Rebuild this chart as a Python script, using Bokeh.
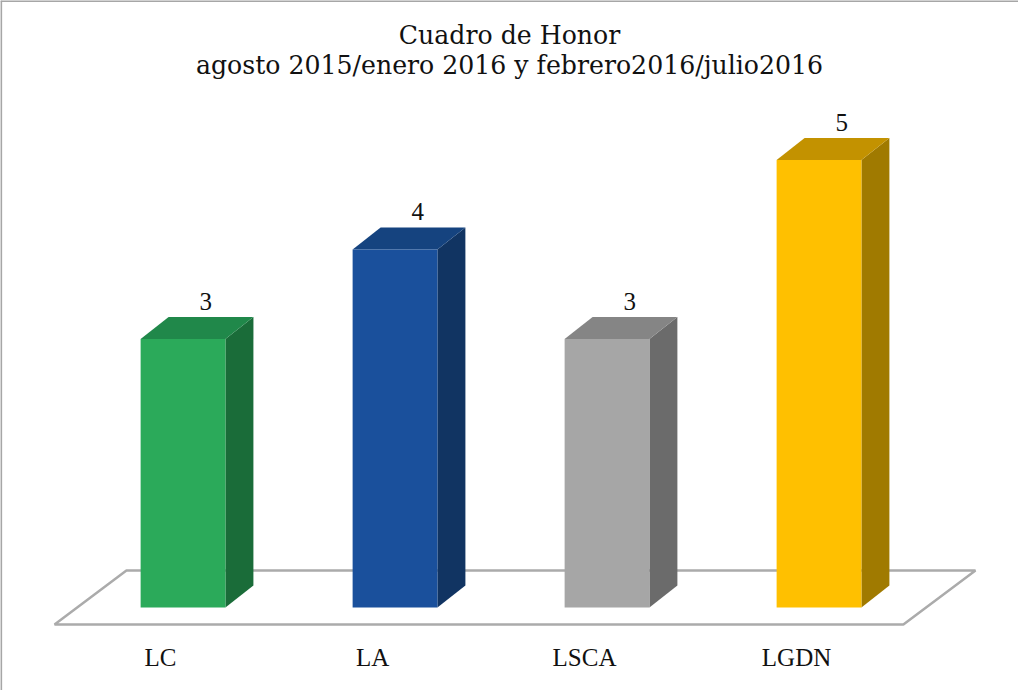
from bokeh.plotting import figure
from bokeh.models import Range1d, Span, ColumnDataSource
from bokeh.core.properties import value
from bokeh.embed import file_html
from bokeh.resources import INLINE

# ---- data ----
categories = ["LC", "LA", "LSCA", "LGDN"]
values = [3, 4, 3, 5]
front_colors = ["#2BAA5A", "#1A509C", "#A6A6A6", "#FFC000"]
top_colors = ["#20884A", "#15437F", "#858585", "#C39200"]
side_colors = ["#1A6C39", "#113462", "#6B6B6B", "#A07A00"]
title_lines = ["Cuadro de Honor", "agosto 2015/enero 2016 y febrero2016/julio2016"]

# ---- geometry (data units) ----
W = 1018
H = 690
bar_w = 0.40
dx = 0.132
dy = 0.246

p = figure(width=W, height=H, output_backend="svg", toolbar_location=None,
           x_range=Range1d(-0.861, 3.941), y_range=Range1d(-0.927, 6.782),
           min_border=0, outline_line_color=None)
p.axis.visible = False
p.grid.visible = False
p.background_fill_color = "white"
p.border_fill_color = "white"

# chart border (left and top visible in reference)
p.add_layout(Span(location=-0.858, dimension="height", line_color="#A6A6A6", line_width=2))
p.add_layout(Span(location=6.776, dimension="width", line_color="#A6A6A6", line_width=2))

xs_c = list(range(len(categories)))

# floor
fl_x = [-0.606, 3.398, 3.738, -0.267]
fl_y = [-0.19, -0.19, 0.413, 0.413]
p.patch(fl_x, fl_y, fill_color="white", line_color="#ABABAB", line_width=2.5)

front_l, front_r = [], []
side_xs, side_ys, top_xs, top_ys = [], [], [], []
for c, v in zip(xs_c, values):
    l, r = c - bar_w / 2, c + bar_w / 2
    front_l.append(l)
    front_r.append(r)
    side_xs.append([r, r + dx, r + dx, r])
    side_ys.append([0, dy, v + dy, v])
    top_xs.append([l, l + dx, r + dx, r])
    top_ys.append([v, v + dy, v + dy, v])

p.patches(side_xs, side_ys, fill_color=side_colors, line_color=None)
p.patches(top_xs, top_ys, fill_color=top_colors, line_color=None)
p.quad(left=front_l, right=front_r, bottom=0, top=values, fill_color=front_colors, line_color=None)

# value labels
lab_src = ColumnDataSource(dict(x=[c + 0.107 for c in xs_c], y=[v + dy + 0.08 for v in values],
                                t=[str(v) for v in values]))
p.text(x="x", y="y", text="t", source=lab_src, text_align="center", text_baseline="bottom",
       text_font=value("Liberation Serif"), text_font_size="25px", text_color="#111111")

# category labels
cat_src = ColumnDataSource(dict(x=[c - 0.106 for c in xs_c], y=[-0.56] * len(categories), t=categories))
p.text(x="x", y="y", text="t", source=cat_src, text_align="center", text_baseline="middle",
       text_font=value("Liberation Serif"), text_font_size="25px", text_color="#111111")

# title
p.text(x=[1.540, 1.540], y=[6.391, 6.056], text=title_lines, text_align="center",
       text_baseline="middle", text_font=value("DejaVu Serif"),
       text_font_size="25.2px", text_color="#111111")

open("out.html", "w").write(file_html(p, INLINE))
